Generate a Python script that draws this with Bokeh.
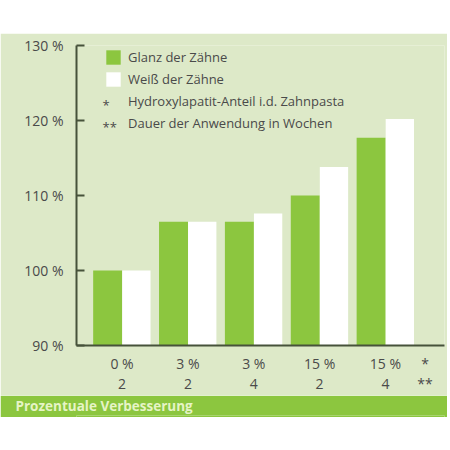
from bokeh.plotting import figure
from bokeh.models import (ColumnDataSource, Range1d, FixedTicker, LinearAxis, Legend, LegendItem,
                          Label, Spacer, PrintfTickFormatter)
from bokeh.layouts import column
from bokeh.transform import dodge
from bokeh.embed import file_html
from bokeh.resources import INLINE

# ---- data ----
anteil = ["0 %", "3 %", "3 %", "15 %", "15 %"]      # * Hydroxylapatit-Anteil
wochen = ["2", "2", "4", "2", "4"]                  # ** Dauer in Wochen
glanz = [100, 106.5, 106.5, 110, 117.7]
weiss = [100, 106.5, 107.6, 113.8, 120.2]
y_ticks = [90, 100, 110, 120, 130]
legend_labels = ["Glanz der Zähne", "Weiß der Zähne",
                 "Hydroxylapatit-Anteil i.d. Zahnpasta", "Dauer der Anwendung in Wochen"]
banner_text = "Prozentuale Verbesserung"

PANEL = "#dde9c8"
GREEN = "#8cc63f"
AXIS = "#46523a"
TEXT = "#4a4a4a"
FONT = "Open Sans"

idx = list(range(len(glanz)))
src = ColumnDataSource(dict(x=idx, glanz=glanz, weiss=weiss))

p = figure(width=447, height=362, output_backend="svg", toolbar_location=None,
           x_range=Range1d(-0.691, 4.896), y_range=Range1d(90, 130),
           x_axis_type=None, y_axis_type=None,
           min_border_left=76, min_border_right=3, min_border_top=12, min_border_bottom=44)
p.background_fill_color = PANEL
p.border_fill_color = PANEL
p.outline_line_color = None
p.grid.visible = False

r_g = p.vbar(x=dodge("x", -0.218, range=p.x_range), top="glanz", bottom=90, width=0.44,
             source=src, fill_color=GREEN, line_color=None)
r_w = p.vbar(x=dodge("x", 0.218, range=p.x_range), top="weiss", bottom=90, width=0.43,
             source=src, fill_color="white", line_color=None)
r_blank = p.scatter([], [], size=0, fill_alpha=0, line_alpha=0)

# y axis
ya = LinearAxis(ticker=FixedTicker(ticks=y_ticks), formatter=PrintfTickFormatter(format="%d %%"))
ya.axis_line_color = AXIS
ya.axis_line_width = 2
ya.major_tick_line_color = AXIS
ya.major_tick_line_width = 2
ya.major_tick_in = 8
ya.major_tick_out = 0
ya.minor_tick_line_color = None
ya.major_label_standoff = 13
ya.major_label_text_font = FONT
ya.major_label_text_font_size = "14px"
ya.major_label_text_color = TEXT
p.add_layout(ya, "left")

star_x = 4.6
ticks_x = idx + [star_x]

def x_axis(labels, star, show_line, standoff):
    ax = LinearAxis(ticker=FixedTicker(ticks=ticks_x),
                    major_label_overrides={**{i: labels[i] for i in idx}, star_x: star})
    ax.axis_line_color = AXIS if show_line else None
    ax.axis_line_width = 2
    ax.major_tick_line_color = None
    ax.major_tick_in = 0
    ax.major_tick_out = 0
    ax.minor_tick_line_color = None
    ax.minor_tick_in = 0
    ax.minor_tick_out = 0
    ax.major_label_standoff = standoff
    ax.major_label_text_font = FONT
    ax.major_label_text_font_size = "14px"
    ax.major_label_text_color = TEXT
    return ax

p.add_layout(x_axis(anteil, "*", True, 8), "below")
p.add_layout(x_axis(wochen, "**", False, -2), "below")

legend = Legend(items=[LegendItem(label=legend_labels[0], renderers=[r_g]),
                       LegendItem(label=legend_labels[1], renderers=[r_w]),
                       LegendItem(label=legend_labels[2], renderers=[r_blank]),
                       LegendItem(label=legend_labels[3], renderers=[r_blank])],
                location=(28, 212), margin=0, padding=0, spacing=2,
                glyph_width=18, glyph_height=18, label_height=20, label_standoff=6,
                border_line_color=None, background_fill_alpha=0,
                label_text_font=FONT, label_text_font_size="13px", label_text_color=TEXT)
p.add_layout(legend)

for s, yy in (("*", 241), ("**", 219)):
    p.add_layout(Label(x=26, y=yy, x_units="screen", y_units="screen", text=s,
                       text_font=FONT, text_font_size="13px", text_color=TEXT,
                       text_baseline="middle"))

# banner
pb = figure(width=447, height=22, output_backend="svg", toolbar_location=None,
            x_range=Range1d(0, 1), y_range=Range1d(0, 1),
            x_axis_type=None, y_axis_type=None, min_border=0,
            min_border_left=0, min_border_right=0, min_border_top=0, min_border_bottom=0,
            title=banner_text, title_location="above")
pb.background_fill_color = GREEN
pb.border_fill_color = GREEN
pb.outline_line_color = None
pb.grid.visible = False
pb.title.align = "left"
pb.title.offset = -61
pb.title.standoff = 0
pb.title.vertical_align = "middle"
pb.title.text_font = FONT
pb.title.text_font_size = "13.5px"
pb.title.text_font_style = "bold"
pb.title.text_color = "#e6f4c6"

layout = column(Spacer(width=447, height=33), p, pb, spacing=0)
open("out.html", "w").write(file_html(layout, INLINE))
